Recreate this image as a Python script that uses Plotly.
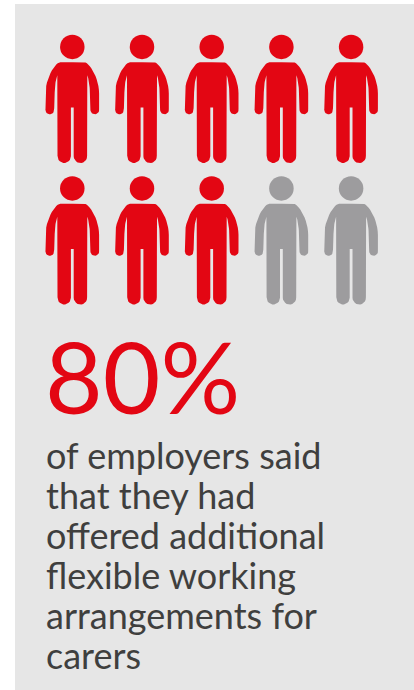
import numpy as np
import plotly.graph_objects as go

# Data
headline = "80%"
share_pct = 80
filled_icons = 8
total_icons = 10
columns = 5
body_lines = ["of employers said", "that they had", "offered additional",
              "flexible working", "arrangements for", "carers"]

# Style / layout
RED, GREY, PANEL, INK = "#E30613", "#9D9C9E", "#E6E6E6", "#3F3F3E"
FONT = "Lato"
W, H = 414, 690
col_x0, col_step = 72.3, 69.7
row_y0, row_step = 62.3, 141.5
head_dy, head_d = -15.4, 24.5


def bez(p0, p1, p2, p3, n=14):
    t = np.linspace(0, 1, n)[:, None]
    p0, p1, p2, p3 = map(np.array, (p0, p1, p2, p3))
    return (1-t)**3*p0 + 3*(1-t)**2*t*p1 + 3*(1-t)*t**2*p2 + t**3*p3


def arc(cx, cy, r, a0, a1, n=12):
    a = np.radians(np.linspace(a0, a1, n))
    return np.c_[cx + r*np.cos(a), cy + r*np.sin(a)]


def half_person():
    """Right half of the figure outline, dx from centre, dy from shoulder line."""
    return np.vstack([
        [[0, 0], [12, 0]],
        bez((12, 0), (17, 0), (26.6, 15), (26.8, 31)),
        [[26.8, 46.5]],
        arc(22.5, 47.5, 4.4, 0, 180),
        [[18.1, 46], [17.6, 30]],
        bez((17.6, 30), (17.3, 22), (16.5, 17), (15, 13)),
        [[14.8, 93.5]],
        arc(8.1, 94, 6.7, 0, 180),
        [[1.4, 45.3], [0, 45.3]],
    ])


half = half_person()
person = np.vstack([half, (half * [-1, 1])[::-1]])


def icon_xy(i):
    return col_x0 + (i % columns) * col_step, row_y0 + (i // columns) * row_step


def bodies(indices):
    xs, ys = [], []
    for i in indices:
        cx, cy = icon_xy(i)
        xs += list(cx + person[:, 0]) + [None]
        ys += list(cy + person[:, 1]) + [None]
    return xs, ys


fig = go.Figure()
groups = [(range(filled_icons), RED, "Yes"), (range(filled_icons, total_icons), GREY, "Other")]
for idx, color, name in groups:
    x, y = bodies(idx)
    fig.add_trace(go.Scatter(x=x, y=y, mode="lines", fill="toself", fillcolor=color,
                             line=dict(width=0, color=color), name=name, hoverinfo="skip"))
    fig.add_trace(go.Scatter(x=[icon_xy(i)[0] for i in idx],
                             y=[icon_xy(i)[1] + head_dy for i in idx],
                             mode="markers", name=name, hoverinfo="skip",
                             marker=dict(size=head_d, color=color, line=dict(width=0))))

fig.add_annotation(x=43, y=375.5, text=headline, showarrow=False, xanchor="left", yanchor="middle",
                   font=dict(family=FONT, size=99.5, color=RED))
for n, line in enumerate(body_lines):
    fig.add_annotation(x=43.5, y=455 + 40 * n, text=line, showarrow=False,
                       xanchor="left", yanchor="middle",
                       font=dict(family=FONT, size=36, color=INK))

fig.update_layout(
    width=W, height=H, autosize=False, margin=dict(l=0, r=0, t=0, b=0),
    paper_bgcolor="white", plot_bgcolor="white", showlegend=False,
    xaxis=dict(range=[0, W], visible=False, fixedrange=True),
    yaxis=dict(range=[H, 0], visible=False, fixedrange=True),
    shapes=[dict(type="rect", layer="below", x0=15, x1=W, y0=4, y1=H,
                 fillcolor=PANEL, line=dict(width=0))],
)
fig.write_html("out.html", config={"displayModeBar": False},
               post_script="document.body.style.margin='0';document.body.style.overflow='hidden';")
